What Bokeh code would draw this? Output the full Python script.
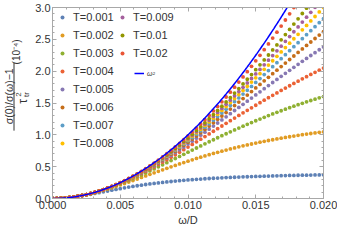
import math
import numpy as np
from bokeh.plotting import figure
from bokeh.layouts import row
from bokeh.models import (Legend, LegendItem, LinearAxis, SingleIntervalTicker,
                          NumeralTickFormatter, CustomJSTickFormatter, Range1d)
from bokeh.core.properties import value
from bokeh.embed import file_html
from bokeh.resources import INLINE

# ---------------- data ----------------
omega = np.linspace(0.0, 0.02, 65)   # omega / D grid

temps = ["T=0.001", "T=0.002", "T=0.003", "T=0.004", "T=0.005", "T=0.006",
         "T=0.007", "T=0.008", "T=0.009", "T=0.01", "T=0.02"]
colors = ["#5E81B5", "#E19C24", "#8FB032", "#EB6235", "#8778B3", "#C56E1A",
          "#5D9EC7", "#FFBF00", "#A5609D", "#929600", "#E95536"]

T001 = [0, 0.001, 0.004, 0.009, 0.015, 0.023, 0.032, 0.043, 0.054, 0.066,
        0.079, 0.092, 0.105, 0.118, 0.131, 0.143, 0.155, 0.167, 0.179, 0.190,
        0.200, 0.210, 0.220, 0.229, 0.237, 0.245, 0.253, 0.260, 0.267, 0.274,
        0.280, 0.285, 0.291, 0.296, 0.301, 0.305, 0.310, 0.314, 0.318, 0.321,
        0.325, 0.328, 0.331, 0.334, 0.337, 0.340, 0.342, 0.345, 0.347, 0.349,
        0.351, 0.353, 0.355, 0.357, 0.358, 0.360, 0.362, 0.363, 0.365, 0.366,
        0.367, 0.368, 0.370, 0.371, 0.372]
T002 = [0, 0.001, 0.004, 0.009, 0.015, 0.024, 0.034, 0.046, 0.060, 0.075,
        0.091, 0.109, 0.128, 0.148, 0.169, 0.190, 0.213, 0.235, 0.259, 0.282,
        0.306, 0.331, 0.355, 0.379, 0.403, 0.427, 0.451, 0.474, 0.497, 0.520,
        0.543, 0.565, 0.587, 0.608, 0.629, 0.649, 0.669, 0.689, 0.708, 0.726,
        0.744, 0.761, 0.778, 0.795, 0.811, 0.827, 0.842, 0.856, 0.871, 0.884,
        0.898, 0.911, 0.923, 0.936, 0.948, 0.959, 0.970, 0.981, 0.992, 1.002,
        1.012, 1.021, 1.030, 1.039, 1.048]
T003 = [0, 0.001, 0.004, 0.009, 0.016, 0.024, 0.035, 0.047, 0.061, 0.077,
        0.094, 0.113, 0.134, 0.155, 0.179, 0.203, 0.229, 0.255, 0.283, 0.311,
        0.341, 0.371, 0.402, 0.433, 0.465, 0.497, 0.529, 0.562, 0.595, 0.628,
        0.661, 0.694, 0.728, 0.761, 0.793, 0.826, 0.859, 0.891, 0.923, 0.954,
        0.986, 1.017, 1.047, 1.077, 1.107, 1.136, 1.165, 1.193, 1.221, 1.248,
        1.275, 1.302, 1.328, 1.353, 1.378, 1.403, 1.426, 1.450, 1.473, 1.495,
        1.518, 1.539, 1.560, 1.581, 1.601]
T004 = [0, 0.001, 0.004, 0.009, 0.016, 0.024, 0.035, 0.047, 0.062, 0.078,
        0.096, 0.115, 0.136, 0.159, 0.183, 0.209, 0.236, 0.264, 0.294, 0.325,
        0.357, 0.391, 0.425, 0.460, 0.496, 0.533, 0.571, 0.609, 0.648, 0.687,
        0.727, 0.767, 0.808, 0.849, 0.890, 0.931, 0.973, 1.014, 1.056, 1.097,
        1.139, 1.180, 1.222, 1.263, 1.304, 1.345, 1.385, 1.425, 1.465, 1.505,
        1.544, 1.583, 1.621, 1.659, 1.697, 1.734, 1.771, 1.808, 1.843, 1.879,
        1.914, 1.948, 1.982, 2.016, 2.049]
T005 = [0, 0.001, 0.004, 0.009, 0.016, 0.024, 0.035, 0.048, 0.062, 0.078,
        0.096, 0.116, 0.137, 0.161, 0.185, 0.212, 0.240, 0.269, 0.300, 0.333,
        0.366, 0.401, 0.438, 0.475, 0.513, 0.553, 0.594, 0.635, 0.677, 0.721,
        0.765, 0.809, 0.855, 0.901, 0.947, 0.994, 1.041, 1.089, 1.137, 1.186,
        1.234, 1.283, 1.332, 1.382, 1.431, 1.480, 1.529, 1.578, 1.627, 1.676,
        1.725, 1.774, 1.822, 1.871, 1.919, 1.966, 2.014, 2.061, 2.108, 2.154,
        2.200, 2.246, 2.291, 2.336, 2.381]
T006 = [0, 0.001, 0.004, 0.009, 0.016, 0.024, 0.035, 0.048, 0.062, 0.078,
        0.097, 0.116, 0.138, 0.162, 0.187, 0.214, 0.242, 0.272, 0.304, 0.337,
        0.372, 0.408, 0.445, 0.484, 0.524, 0.565, 0.607, 0.651, 0.696, 0.741,
        0.788, 0.835, 0.884, 0.933, 0.983, 1.034, 1.085, 1.137, 1.190, 1.243,
        1.296, 1.350, 1.404, 1.459, 1.514, 1.569, 1.625, 1.680, 1.736, 1.792,
        1.848, 1.904, 1.960, 2.016, 2.072, 2.127, 2.183, 2.238, 2.294, 2.349,
        2.404, 2.458, 2.513, 2.567, 2.621]
T007 = [0, 0.001, 0.004, 0.009, 0.016, 0.024, 0.035, 0.048, 0.062, 0.079,
        0.097, 0.117, 0.139, 0.162, 0.188, 0.215, 0.244, 0.274, 0.306, 0.340,
        0.375, 0.412, 0.451, 0.490, 0.531, 0.574, 0.618, 0.663, 0.709, 0.757,
        0.805, 0.855, 0.906, 0.957, 1.010, 1.064, 1.118, 1.174, 1.230, 1.286,
        1.344, 1.402, 1.461, 1.520, 1.580, 1.640, 1.700, 1.761, 1.823, 1.884,
        1.946, 2.009, 2.071, 2.134, 2.196, 2.259, 2.322, 2.385, 2.448, 2.511,
        2.573, 2.636, 2.699, 2.761, 2.824]
T008 = [0, 0.001, 0.004, 0.009, 0.016, 0.024, 0.035, 0.048, 0.062, 0.079,
        0.097, 0.117, 0.139, 0.163, 0.188, 0.216, 0.245, 0.276, 0.308, 0.342,
        0.378, 0.416, 0.455, 0.495, 0.537, 0.581, 0.626, 0.672, 0.720, 0.769,
        0.819, 0.870, 0.923, 0.977, 1.032, 1.088, 1.145, 1.203, 1.262, 1.322,
        1.383, 1.444, 1.506, 1.570, 1.633, 1.698, 1.763, 1.829, 1.895, 1.961,
        2.029, 2.096, 2.164, 2.233, 2.302, 2.371, 2.440, 2.509, 2.579, 2.649,
        2.719, 2.789, 2.859, 2.930, 3.000]
T009 = [0, 0.001, 0.004, 0.009, 0.016, 0.024, 0.035, 0.048, 0.062, 0.079,
        0.097, 0.117, 0.139, 0.163, 0.189, 0.217, 0.246, 0.277, 0.310, 0.344,
        0.381, 0.419, 0.458, 0.499, 0.542, 0.587, 0.632, 0.680, 0.728, 0.779,
        0.830, 0.883, 0.938, 0.993, 1.050, 1.108, 1.167, 1.228, 1.289, 1.352,
        1.415, 1.480, 1.545, 1.612, 1.679, 1.747, 1.816, 1.886, 1.957, 2.028,
        2.100, 2.172, 2.245, 2.319, 2.393, 2.468, 2.543, 2.619, 2.695, 2.771,
        2.848, 2.925, 3.003]
T010 = [0, 0.001, 0.004, 0.009, 0.016, 0.024, 0.035, 0.048, 0.062, 0.079,
        0.097, 0.118, 0.140, 0.164, 0.190, 0.217, 0.247, 0.278, 0.312, 0.346,
        0.383, 0.422, 0.462, 0.504, 0.547, 0.592, 0.639, 0.687, 0.737, 0.789,
        0.842, 0.896, 0.952, 1.010, 1.069, 1.129, 1.190, 1.253, 1.317, 1.383,
        1.449, 1.517, 1.586, 1.656, 1.727, 1.800, 1.873, 1.947, 2.023, 2.099,
        2.176, 2.254, 2.333, 2.412, 2.493, 2.574, 2.656, 2.739, 2.822, 2.906,
        2.990]
T020 = [0, 0.001, 0.004, 0.009, 0.016, 0.024, 0.035, 0.048, 0.062, 0.079,
        0.098, 0.118, 0.140, 0.165, 0.191, 0.219, 0.249, 0.281, 0.315, 0.350,
        0.388, 0.427, 0.469, 0.512, 0.557, 0.604, 0.652, 0.703, 0.755, 0.809,
        0.865, 0.923, 0.982, 1.043, 1.106, 1.171, 1.237, 1.305, 1.375, 1.446,
        1.519, 1.594, 1.670, 1.748, 1.828, 1.909, 1.992, 2.076, 2.162, 2.249,
        2.338, 2.428, 2.520, 2.613, 2.708, 2.804, 2.901, 3.000]

series = [T001, T002, T003, T004, T005, T006, T007, T008, T009, T010, T020]

# reference curve omega^2 (units of 1e-4, i.e. (omega/0.01)^2)
w_line = np.linspace(0.0, 0.02, 401)
w2_line = (w_line / 0.01) ** 2

x_tick_interval = 0.005
y_tick_interval = 0.5

# ---------------- style ----------------
FONT = "Liberation Sans"
TXT = "#333333"
FRAME = "#A8A8A8"
H = 228

p = figure(width=307, height=H, output_backend="svg", toolbar_location=None,
           x_range=Range1d(0.0, 0.02), y_range=Range1d(0.0, 3.0),
           min_border_left=22, min_border_right=14, min_border_top=7,
           min_border_bottom=30, background_fill_color="white",
           border_fill_color="white")
p.outline_line_color = FRAME
p.xgrid.grid_line_color = None
p.ygrid.grid_line_color = None

p.xaxis.ticker = SingleIntervalTicker(interval=x_tick_interval, num_minor_ticks=5)
p.yaxis.ticker = SingleIntervalTicker(interval=y_tick_interval, num_minor_ticks=5)
p.xaxis.formatter = NumeralTickFormatter(format="0.000")
p.yaxis.formatter = NumeralTickFormatter(format="0.0")
p.xaxis.axis_label = "ω/D"
p.xaxis.axis_label_text_font = FONT
p.xaxis.axis_label_text_font_size = "11px"
p.xaxis.axis_label_text_font_style = "normal"
p.xaxis.axis_label_text_color = TXT
p.xaxis.axis_label_standoff = 2


def style_axis(ax):
    ax.axis_line_color = FRAME
    ax.major_tick_line_color = FRAME
    ax.minor_tick_line_color = FRAME
    ax.major_tick_in = 4
    ax.major_tick_out = 0
    ax.minor_tick_in = 2
    ax.minor_tick_out = 0
    ax.major_label_text_font = FONT
    ax.major_label_text_font_size = "11px"
    ax.major_label_text_color = TXT
    ax.major_label_standoff = 2


style_axis(p.xaxis[0])
style_axis(p.yaxis[0])

top_ax = LinearAxis(ticker=SingleIntervalTicker(interval=x_tick_interval, num_minor_ticks=5),
                    formatter=CustomJSTickFormatter(code="return ''"))
right_ax = LinearAxis(ticker=SingleIntervalTicker(interval=y_tick_interval, num_minor_ticks=5),
                      formatter=CustomJSTickFormatter(code="return ''"))
for ax in (top_ax, right_ax):
    style_axis(ax)
    ax.major_label_text_font_size = "0px"
    ax.major_label_standoff = 0
p.add_layout(top_ax, "above")
p.add_layout(right_ax, "right")

# ---------------- data marks ----------------
renderers = []
for vals, col in zip(series, colors):
    n = len(vals)
    r = p.scatter(omega[:n], vals, marker="circle", size=3.8,
                  fill_color=col, line_color=None)
    renderers.append(r)

line_r = p.line(w_line, w2_line, line_color="#0000FF", line_width=1.5)

# ---------------- legends ----------------
def make_legend(items, loc, size="11px", style="normal", gh=18, gw=10, standoff=6):
    lg = Legend(items=items, location=loc, padding=0, spacing=0, margin=0,
                glyph_height=gh, glyph_width=gw, label_height=gh,
                label_standoff=standoff, border_line_color=None,
                background_fill_alpha=0.0, label_text_font=FONT,
                label_text_font_size=size, label_text_font_style=style,
                label_text_color=TXT)
    p.add_layout(lg)
    return lg


make_legend([LegendItem(label=temps[i], renderers=[renderers[i]]) for i in range(8)],
            (5, 46))
make_legend([LegendItem(label=temps[i], renderers=[renderers[i]]) for i in range(8, 11)],
            (65, 136))
make_legend([LegendItem(label="ω²", renderers=[line_r])], (82, 120),
            size="7px", style="italic", gh=10, gw=10, standoff=3)

# ---------------- y label panel (stacked fraction) ----------------
lf = figure(width=30, height=H, output_backend="svg", toolbar_location=None,
            x_range=Range1d(0, 30), y_range=Range1d(0, H),
            x_axis_type=None, y_axis_type=None, min_border=0,
            background_fill_color="white", border_fill_color="white")
lf.outline_line_color = None


def ytext(x, y, t, size):
    lf.text(x=[x], y=[H - y], text=[t], angle=math.pi / 2,
            text_align="center", text_baseline="middle",
            text_font=value(FONT), text_font_size=value(size), text_color=TXT)


ytext(8.5, 106, "σ(0)/σ(ω)−1", "10.5px")
lf.segment(x0=[13.5], y0=[H - 147], x1=[13.5], y1=[H - 66],
           line_color=TXT, line_width=1)
ytext(22.5, 112, "τ", "12px")
ytext(25.5, 104, "tr", "8px")
ytext(17.5, 104, "2", "8px")
ytext(16.0, 53, "(10⁻⁴)", "10px")

layout = row(lf, p, spacing=0)
open("out.html", "w").write(file_html(layout, INLINE))
